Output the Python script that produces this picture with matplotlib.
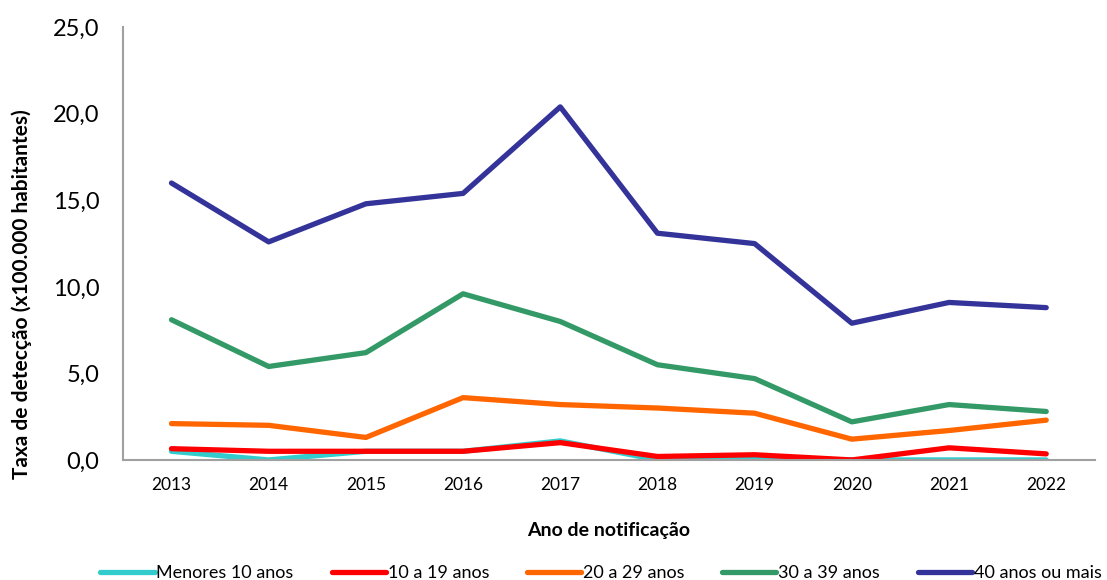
import matplotlib.pyplot as plt
from matplotlib.ticker import FuncFormatter

plt.rcParams['font.family'] = ['Lato', 'DejaVu Sans']

anos = [2013, 2014, 2015, 2016, 2017, 2018, 2019, 2020, 2021, 2022]
menores_10 = [0.5, 0.0, 0.5, 0.5, 1.1, 0.0, 0.1, 0.0, 0.0, 0.0]
de_10_a_19 = [0.65, 0.5, 0.5, 0.5, 1.0, 0.2, 0.3, 0.0, 0.7, 0.35]
de_20_a_29 = [2.1, 2.0, 1.3, 3.6, 3.2, 3.0, 2.7, 1.2, 1.7, 2.3]
de_30_a_39 = [8.1, 5.4, 6.2, 9.6, 8.0, 5.5, 4.7, 2.2, 3.2, 2.8]
mais_40 = [16.0, 12.6, 14.8, 15.4, 20.4, 13.1, 12.5, 7.9, 9.1, 8.8]

series = [
    ("Menores 10 anos", menores_10, "#33CCCC"),
    ("10 a 19 anos", de_10_a_19, "#FF0000"),
    ("20 a 29 anos", de_20_a_29, "#FF6600"),
    ("30 a 39 anos", de_30_a_39, "#339966"),
    ("40 anos ou mais", mais_40, "#333399"),
]

fig = plt.figure(figsize=(11.07, 5.8), dpi=100)
ax = fig.add_axes([0.111, 0.207, 0.878, 0.746])

for label, vals, color in series:
    ax.plot(anos, vals, color=color, linewidth=3.8, label=label,
            solid_capstyle='round', solid_joinstyle='round')

ax.set_xlim(2012.5, 2022.5)
ax.set_ylim(0, 25)
ax.set_xticks(anos)
ax.set_yticks([0, 5, 10, 15, 20, 25])
ax.yaxis.set_major_formatter(FuncFormatter(lambda v, p: f"{v:.1f}".replace('.', ',')))
ax.tick_params(axis='y', labelsize=17, length=0, pad=17)
ax.tick_params(axis='x', labelsize=12.5, length=0, pad=12)

for s in ['top', 'right']:
    ax.spines[s].set_visible(False)
for s in ['left', 'bottom']:
    ax.spines[s].set_color('#A0A0A0')
    ax.spines[s].set_linewidth(1.5)

ax.set_xlabel("Ano de notificação", fontsize=14, fontweight='bold', labelpad=21)
ax.set_ylabel("Taxa de detecção (x100.000 habitantes)", fontsize=15, fontweight='bold')
ax.yaxis.set_label_coords(-0.094, 0.383)

fig.legend(loc='lower center', bbox_to_anchor=(0.543, -0.03), ncol=5, frameon=False,
           fontsize=13, handlelength=3.0, handletextpad=0.1, columnspacing=2.1)

fig.savefig("out.png", dpi=100)
